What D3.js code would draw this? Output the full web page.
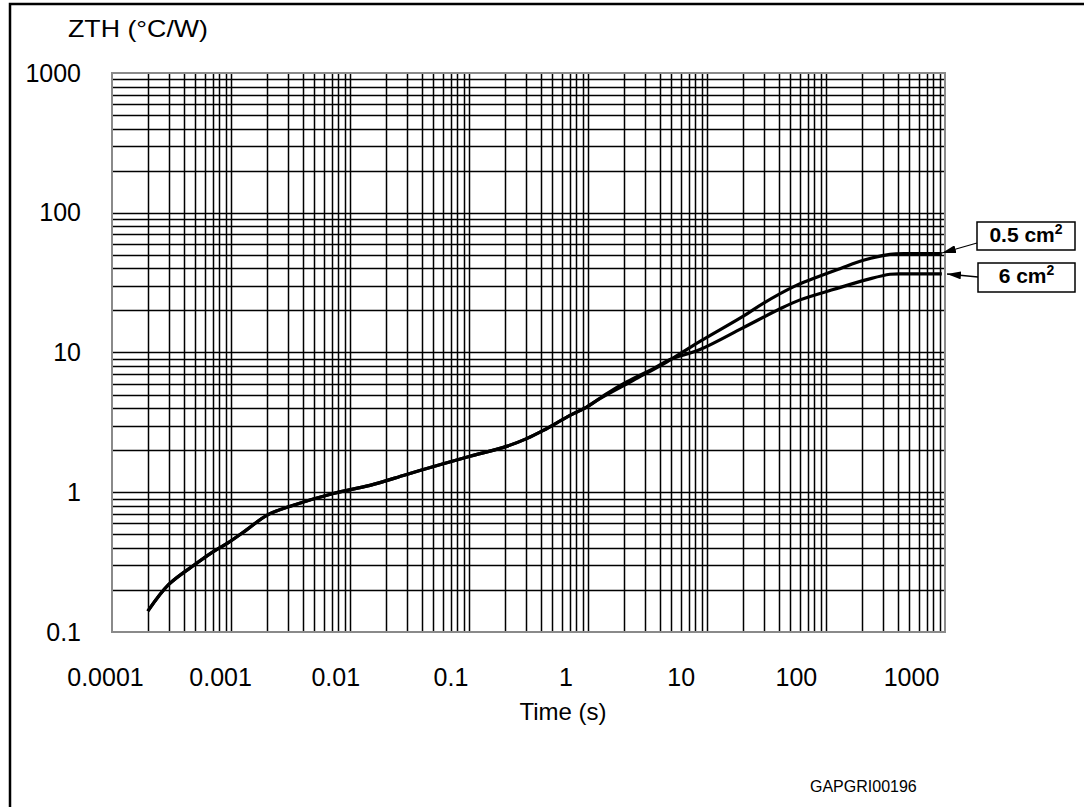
<!DOCTYPE html>
<html>
<head>
<meta charset="utf-8">
<script src="https://cdn.jsdelivr.net/npm/d3@7"></script>
<style>
  body { margin: 0; background: #fff; }
  svg { display: block; font-family: Arial, "Liberation Sans", sans-serif; }
</style>
</head>
<body>
<svg id="chart" width="1084" height="807"></svg>
<script>
// Thermal impedance Zth vs pulse time
const timeA = [0.0002, 0.0003, 0.0005, 0.0007, 0.00095, 0.00136, 0.002, 0.00334, 0.00724,
  0.0147, 0.0299, 0.0608, 0.102, 0.207, 0.305, 0.421, 0.706, 0.975, 1.26, 2.4,
  4.58, 8.73, 20.2, 29.7, 53.1, 78.2, 131, 206, 345, 500, 940];
const zthA = [0.141, 0.219, 0.305, 0.373, 0.436, 0.54, 0.684, 0.807, 0.98,
  1.12, 1.34, 1.6, 1.81, 2.13, 2.42, 2.77, 3.55, 4.07, 4.68, 6.32,
  8.55, 12.0, 18.2, 22.5, 29.5, 33.8, 39.8, 45.7, 50.4, 51, 51];

const timeB = [0.0002, 0.0003, 0.0005, 0.0007, 0.00095, 0.00136, 0.002, 0.00334, 0.00724,
  0.0147, 0.0299, 0.0608, 0.102, 0.207, 0.305, 0.421, 0.706, 0.975, 1.44, 2.11,
  3.54, 4.89, 8.73, 20, 40, 60.5, 115, 220, 345, 500, 940];
const zthB = [0.141, 0.219, 0.305, 0.373, 0.436, 0.54, 0.684, 0.807, 0.98,
  1.12, 1.34, 1.6, 1.81, 2.13, 2.42, 2.77, 3.55, 4.07, 5.08, 6.15,
  7.67, 8.9, 10.5, 15.0, 20.3, 23.8, 28.2, 33.2, 36.3, 36.5, 36.5];

const seriesLabels = ["0.5 cm", "6 cm"];
const xTickLabels = ["0.0001", "0.001", "0.01", "0.1", "1", "10", "100", "1000"];
const yTickValues = [1000, 100, 10, 1, 0.1];

const svg = d3.select("#chart");
const plot = { left: 112, right: 945, top: 73, bottom: 632 };

// Background and the (cropped) outer frame
svg.append("rect").attr("width", 1084).attr("height", 807).attr("fill", "#fff");
svg.append("path")
  .attr("d", "M10,807 L10,4 L1084,4")
  .attr("fill", "none")
  .attr("stroke", "#000")
  .attr("stroke-width", 2.5);

const x = d3.scaleLog().domain([1e-4, 1e3]).range([plot.left, plot.right]);
const y = d3.scaleLog().domain([0.1, 1000]).range([plot.bottom, plot.top]);

// Tick labels in the original are spaced a little tighter than the grid
const xLabel = d3.scalePoint().domain(xTickLabels).range([105, 911]);

// Snap grid lines to the pixel grid so they all look equally dark
const snap = (v) => Math.round(v) + 0.5;

const grid = svg.append("g").attr("class", "grid")
  .attr("stroke", "#000").attr("stroke-width", 1.5);

grid.selectAll(".vgrid")
  .data(x.ticks().filter((d) => d > 1e-4 && d < 1e3))
  .enter()
  .append("line")
  .attr("x1", (d) => snap(x(d))).attr("x2", (d) => snap(x(d)))
  .attr("y1", plot.top).attr("y2", plot.bottom);

grid.selectAll(".hgrid")
  .data(y.ticks().filter((d) => d > 0.1 && d < 1000))
  .enter()
  .append("line")
  .attr("x1", plot.left).attr("x2", plot.right)
  .attr("y1", (d) => snap(y(d))).attr("y2", (d) => snap(y(d)));

// Plot border
svg.append("rect")
  .attr("x", plot.left).attr("y", plot.top)
  .attr("width", plot.right - plot.left).attr("height", plot.bottom - plot.top)
  .attr("fill", "none").attr("stroke", "#8a8a8a").attr("stroke-width", 2);

// Axes labels
const xAxis = svg.append("g")
  .attr("transform", `translate(0,${plot.bottom + 45})`)
  .call(d3.axisBottom(xLabel).tickSize(0).tickPadding(0));
xAxis.select(".domain").remove();
xAxis.selectAll("text")
  .attr("font-size", 25).attr("font-family", "Arial, 'Liberation Sans', sans-serif")
  .attr("fill", "#000").attr("dy", "0.35em");

const yAxis = svg.append("g")
  .attr("transform", "translate(81,0)")
  .call(d3.axisLeft(y).tickValues(yTickValues).tickFormat((d) => String(d)).tickSize(0).tickPadding(0));
yAxis.select(".domain").remove();
yAxis.selectAll("text")
  .attr("font-size", 25).attr("font-family", "Arial, 'Liberation Sans', sans-serif")
  .attr("fill", "#000");

svg.append("text")
  .attr("x", 68).attr("y", 37)
  .attr("font-size", 24)
  .attr("textLength", 140).attr("lengthAdjust", "spacingAndGlyphs")
  .text("ZTH (°C/W)");

svg.append("text")
  .attr("x", 563).attr("y", 720)
  .attr("text-anchor", "middle")
  .attr("font-size", 24)
  .text("Time (s)");

svg.append("text")
  .attr("x", 810).attr("y", 792)
  .attr("font-size", 16)
  .text("GAPGRI00196");

// Curves
const line = d3.line()
  .x((d) => x(d[0]))
  .y((d) => y(d[1]))
  .curve(d3.curveCatmullRom.alpha(0.5));

const series = [d3.zip(timeA, zthA), d3.zip(timeB, zthB)];

svg.append("g")
  .selectAll("path")
  .data(series)
  .enter()
  .append("path")
  .attr("d", line)
  .attr("fill", "none")
  .attr("stroke", "#000")
  .attr("stroke-width", 3.2)
  .attr("stroke-linejoin", "round");

// Callout boxes with arrows pointing to the curve ends
svg.append("defs")
  .append("marker")
  .attr("id", "arrow")
  .attr("viewBox", "0 0 14 8")
  .attr("refX", 14).attr("refY", 4)
  .attr("markerWidth", 14).attr("markerHeight", 8)
  .attr("markerUnits", "userSpaceOnUse")
  .attr("orient", "auto")
  .append("path")
  .attr("d", "M0,0 L14,4 L0,8 Z")
  .attr("fill", "#000");

const callouts = [
  { box: [977, 222, 98, 28], from: [977, 243], tip: [plot.right - 3, 253] },
  { box: [978, 263, 97, 29], from: [978, 277], tip: [plot.right + 2, 274] },
];

const callout = svg.append("g")
  .selectAll("g")
  .data(callouts)
  .enter()
  .append("g");

callout.append("rect")
  .attr("x", (d) => d.box[0]).attr("y", (d) => d.box[1])
  .attr("width", (d) => d.box[2]).attr("height", (d) => d.box[3])
  .attr("fill", "#fff").attr("stroke", "#000").attr("stroke-width", 1.5);

callout.append("line")
  .attr("x1", (d) => d.from[0]).attr("y1", (d) => d.from[1])
  .attr("x2", (d) => d.tip[0]).attr("y2", (d) => d.tip[1])
  .attr("stroke", "#000").attr("stroke-width", 1.3)
  .attr("marker-end", "url(#arrow)");

const label = callout.append("text")
  .attr("x", (d) => d.box[0] + d.box[2] / 2)
  .attr("y", (d) => d.box[1] + 20)
  .attr("text-anchor", "middle")
  .attr("font-size", 21)
  .attr("font-weight", "bold");

label.append("tspan").text((d, i) => seriesLabels[i]);
label.append("tspan")
  .attr("font-size", 14)
  .attr("dy", -8)
  .text("2");
</script>
</body>
</html>
